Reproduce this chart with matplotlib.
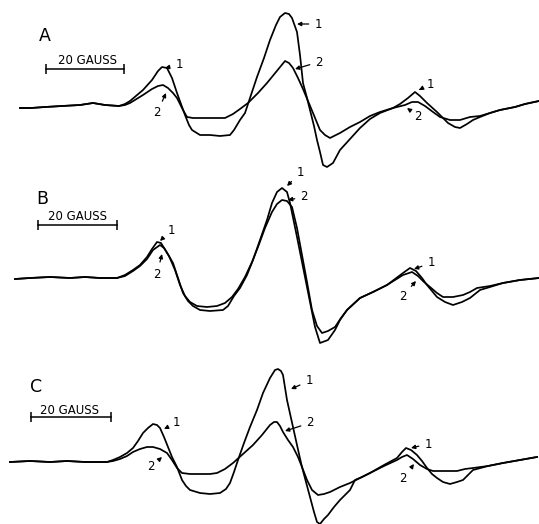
import matplotlib
matplotlib.use("Agg")
import matplotlib.pyplot as plt

# traces, in picture pixels (x right, y down)
# panel A
a1_x = [20, 31, 45, 62, 80, 93, 105, 119, 125, 130, 143, 152, 158, 162, 167, 172, 177, 181, 185, 189,
        192, 200, 210, 220, 230, 234, 240, 245, 251, 257, 264, 270, 276, 280, 285, 289, 292, 297, 300,
        303, 307, 310, 314, 317, 320, 323, 327, 333, 340, 350, 360, 370, 380, 393, 400, 408, 415, 420,
        427, 437, 443, 448, 455, 460, 467, 473, 480, 490, 500, 515, 525, 539]
a1_y = [108, 108, 107, 106, 105, 103, 105, 106, 104, 101, 90, 80, 71, 67, 68, 78, 93, 104, 115, 125,
        130, 135, 135, 136, 135, 130, 120, 113, 95, 77, 58, 40, 25, 17, 13, 14, 18, 32, 55,
        83, 98, 110, 126, 140, 152, 165, 167, 163, 150, 139, 128, 119, 113, 108, 104, 98, 92, 96,
        103, 112, 118, 123, 127, 128, 124, 120, 117, 113, 110, 107, 104, 101]
a2_x = [20, 31, 45, 62, 80, 93, 105, 119, 125, 130, 143, 152, 158, 163, 168, 173, 177, 183, 187, 193,
        200, 215, 225, 233, 240, 248, 258, 267, 276, 285, 289, 293, 298, 303, 308, 313, 320, 325, 330,
        340, 350, 360, 370, 380, 393, 405, 412, 418, 425, 433, 440, 450, 460, 470, 480, 490, 500, 515,
        525, 539]
a2_y = [108, 108, 107, 106, 105, 103, 105, 106, 105, 103, 95, 89, 86, 85, 88, 93, 98, 110, 117, 118,
        118, 118, 118, 114, 109, 103, 93, 83, 72, 61, 63, 68, 78, 89, 101, 113, 130, 135, 138,
        133, 127, 122, 116, 112, 108, 105, 102, 102, 106, 112, 117, 120, 120, 117, 116, 113, 110, 107,
        104, 101]

# panel B
b1_x = [15, 30, 50, 70, 85, 100, 117, 125, 133, 140, 147, 152, 157, 161, 166, 173, 178, 183, 188, 193,
        200, 210, 223, 228, 234, 240, 247, 253, 260, 267, 272, 277, 282, 287, 290, 297, 302, 307, 311,
        315, 320, 328, 335, 340, 347, 360, 373, 387, 395, 403, 410, 416, 422, 427, 437, 445, 453, 462,
        470, 480, 490, 503, 520, 539]
b1_y = [279, 278, 277, 278, 277, 278, 278, 275, 270, 265, 257, 249, 242, 243, 251, 263, 278, 293, 301, 306,
        310, 311, 310, 306, 296, 288, 275, 260, 240, 220, 203, 192, 188, 192, 203, 237, 262, 287, 307,
        327, 343, 340, 330, 320, 310, 298, 292, 285, 279, 273, 268, 271, 278, 285, 297, 302, 305, 302,
        298, 290, 287, 283, 280, 278]
b2_x = [15, 30, 50, 70, 85, 100, 117, 125, 133, 140, 147, 153, 160, 164, 169, 175, 180, 185, 190, 197,
        207, 217, 225, 232, 238, 245, 252, 258, 265, 272, 277, 282, 287, 292, 297, 302, 307, 312, 317,
        322, 328, 335, 341, 347, 360, 373, 387, 395, 403, 412, 418, 424, 430, 437, 443, 453, 463, 470,
        477, 490, 503, 520, 539]
b2_y = [279, 278, 277, 278, 277, 278, 278, 276, 271, 266, 259, 250, 245, 248, 256, 270, 285, 296, 302, 306,
        307, 306, 303, 297, 289, 277, 262, 247, 228, 212, 204, 200, 201, 207, 228, 255, 282, 310, 326,
        333, 331, 327, 318, 310, 298, 292, 285, 280, 275, 272, 276, 282, 287, 293, 297, 297, 295, 292,
        288, 286, 283, 280, 278]

# panel C
c1_x = [10, 30, 50, 67, 85, 107, 113, 120, 127, 133, 138, 143, 148, 153, 157, 160, 164, 168, 172, 177,
        182, 186, 190, 200, 210, 220, 226, 230, 234, 238, 244, 250, 257, 263, 270, 275, 278, 281, 283,
        287, 291, 295, 299, 302, 306, 310, 314, 317, 320, 324, 328, 334, 340, 345, 350, 355, 362, 370,
        384, 397, 402, 406, 411, 417, 422, 427, 432, 437, 443, 450, 457, 463, 468, 473, 488, 503, 520,
        537]
c1_y = [462, 461, 462, 461, 462, 462, 460, 457, 453, 448, 441, 433, 428, 424, 425, 428, 437, 447, 457, 467,
        480, 486, 490, 493, 494, 493, 489, 483, 472, 460, 443, 427, 410, 393, 378, 370, 369, 371, 375,
        400, 418, 436, 454, 467, 482, 497, 512, 522, 524, 519, 515, 507, 500, 495, 490, 480, 477, 473,
        465, 458, 452, 448, 450, 455, 461, 468, 474, 478, 482, 484, 482, 480, 475, 470, 466, 463, 460,
        457]
c2_x = [10, 30, 50, 67, 85, 107, 113, 120, 127, 133, 140, 147, 153, 160, 167, 172, 177, 182, 190, 200,
        210, 217, 225, 233, 243, 253, 262, 270, 274, 277, 280, 283, 288, 293, 298, 302, 307, 312, 318,
        324, 330, 340, 350, 360, 370, 384, 397, 402, 407, 413, 420, 427, 433, 445, 457, 465, 473, 488,
        503, 520, 537]
c2_y = [462, 461, 462, 461, 462, 462, 461, 459, 456, 452, 449, 447, 447, 449, 453, 460, 468, 473, 474, 474,
        474, 473, 469, 463, 454, 445, 435, 425, 422, 422, 426, 432, 440, 447, 457, 467, 480, 490, 495,
        494, 492, 487, 483, 478, 473, 466, 460, 457, 455, 459, 465, 469, 471, 471, 471, 469, 468, 466,
        463, 460, 457]

panel_names = ["A", "B", "C"]
panel_xy = [(45, 36), (42, 199), (36, 387)]
scale_text = "20 GAUSS"
scale_bars = [(46, 124, 69), (38, 117, 225), (31, 111, 417)]
scale_text_xy = [(87, 60), (78, 217), (70, 410)]

# (label, text position, arrow tip)
marks = [
    ("1", (179, 65), (165, 68)), ("2", (157, 113), (166, 93)),
    ("1", (318, 24), (297, 24)), ("2", (319, 62), (295, 69)),
    ("1", (430, 84), (419, 90)), ("2", (418, 116), (407, 108)),
    ("1", (171, 230), (160, 241)), ("2", (157, 274), (162, 254)),
    ("1", (300, 173), (287, 186)), ("2", (304, 197), (288, 200)),
    ("1", (431, 263), (414, 269)), ("2", (403, 296), (416, 281)),
    ("1", (176, 423), (164, 429)), ("2", (151, 467), (162, 457)),
    ("1", (309, 381), (291, 389)), ("2", (310, 423), (285, 431)),
    ("1", (428, 444), (411, 448)), ("2", (403, 479), (414, 464)),
]

fig = plt.figure(figsize=(5.39, 5.24), dpi=100)
ax = fig.add_axes([0, 0, 1, 1])
ax.set_xlim(0, 539)
ax.set_ylim(524, 0)
ax.axis("off")

for xs, ys in [(a1_x, a1_y), (a2_x, a2_y), (b1_x, b1_y), (b2_x, b2_y), (c1_x, c1_y), (c2_x, c2_y)]:
    ax.plot(xs, ys, color="black", lw=1.25, solid_joinstyle="round")

for name, (x, y) in zip(panel_names, panel_xy):
    ax.text(x, y, name, fontsize=12.5, ha="center", va="center", family="DejaVu Sans")

for (x0, x1, y), (tx, ty) in zip(scale_bars, scale_text_xy):
    ax.plot([x0, x1], [y, y], color="black", lw=1.1)
    ax.plot([x0, x1], [y, y], ls="none", marker="|", ms=7, mew=1.1, color="black")
    ax.text(tx, ty, scale_text, fontsize=8.5, ha="center", va="center", family="DejaVu Sans")

for label, (tx, ty), (px, py) in marks:
    ax.annotate(label, xy=(px, py), xytext=(tx, ty), fontsize=8.5, ha="center", va="center",
                arrowprops=dict(arrowstyle="-|>", color="black", lw=0.9, mutation_scale=6,
                                shrinkA=2, shrinkB=0))

fig.savefig("out.png", dpi=100, facecolor="white")
